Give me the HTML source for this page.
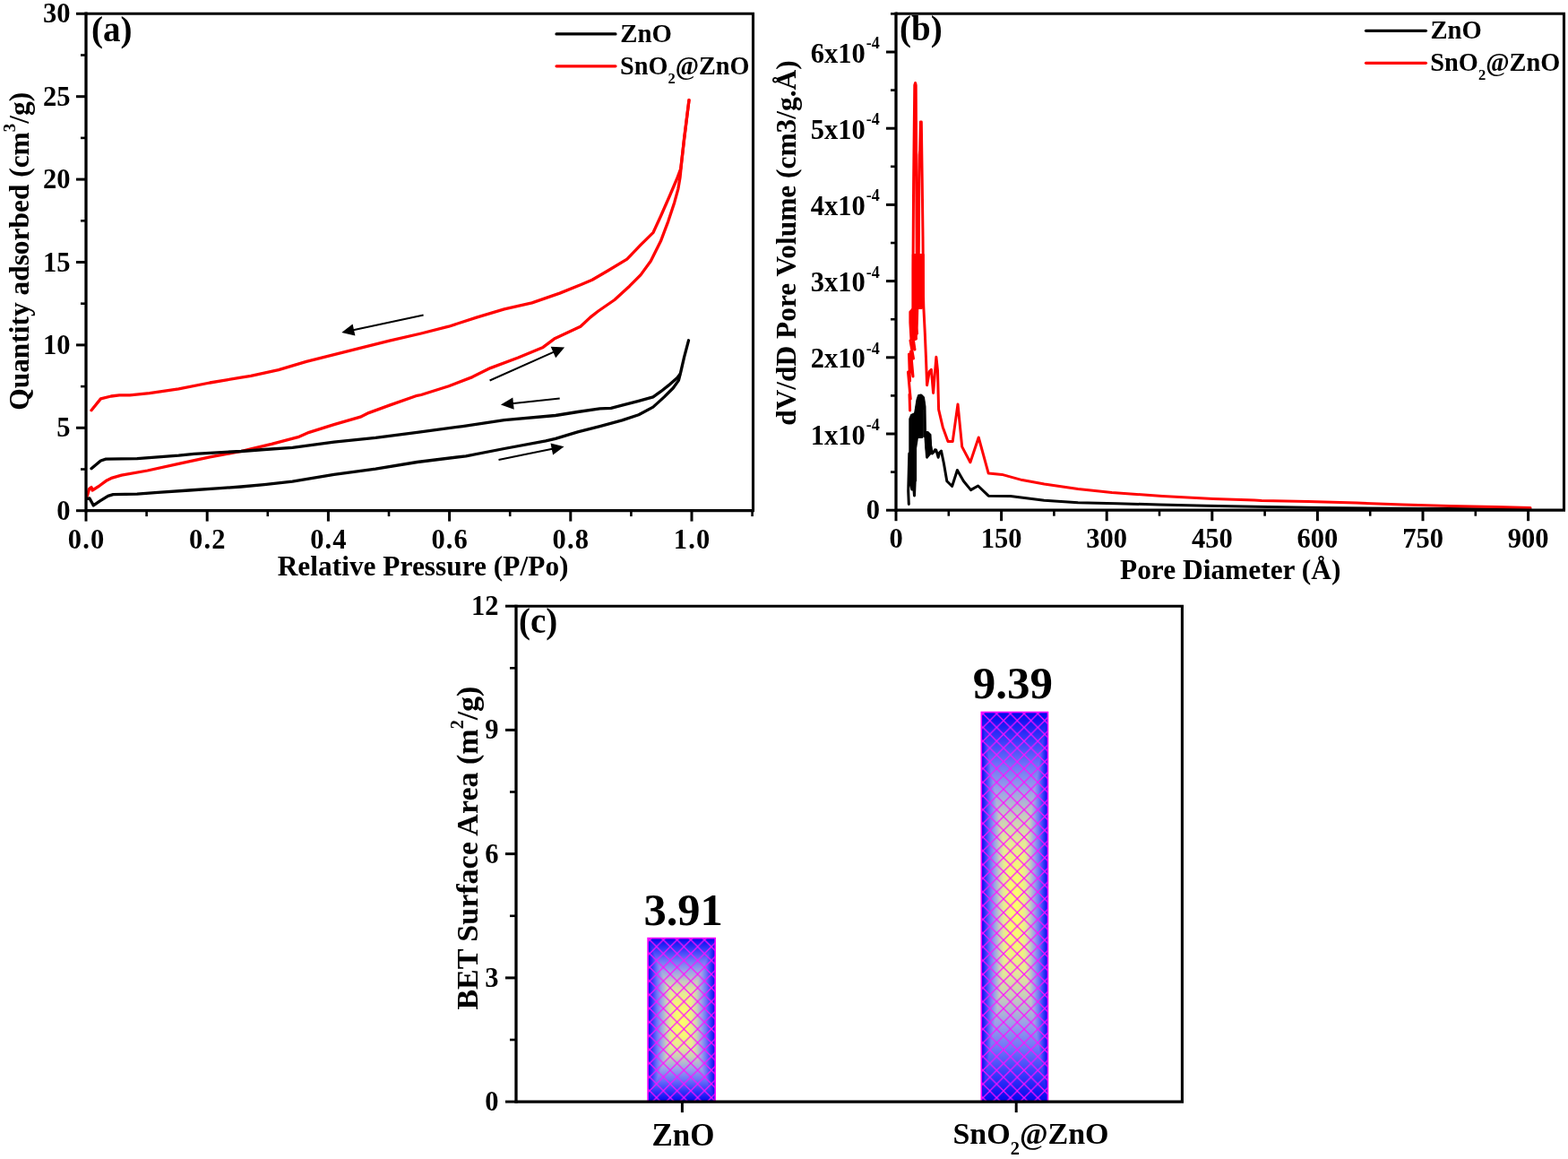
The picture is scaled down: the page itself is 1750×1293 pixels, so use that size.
<!DOCTYPE html>
<html><head><meta charset="utf-8"><title>BET figure</title><style>html,body{margin:0;padding:0;background:#fff;overflow:hidden}svg{display:block}</style></head><body>
<svg width="1750" height="1293" viewBox="0 0 1750 1293" font-family="&quot;Liberation Serif&quot;, serif" font-weight="bold">
<rect width="100%" height="100%" fill="#fff"/>
<defs>
<linearGradient id="gh0" gradientUnits="userSpaceOnUse" x1="723.1" y1="0" x2="798.2" y2="0"><stop offset="0.0000" stop-color="rgb(5,5,235)"/><stop offset="0.0150" stop-color="rgb(15,15,240)"/><stop offset="0.0700" stop-color="rgb(55,58,250)"/><stop offset="0.1350" stop-color="rgb(110,115,248)"/><stop offset="0.2000" stop-color="rgb(155,160,232)"/><stop offset="0.2700" stop-color="rgb(200,204,188)"/><stop offset="0.3350" stop-color="rgb(230,232,152)"/><stop offset="0.4000" stop-color="rgb(245,245,120)"/><stop offset="0.5000" stop-color="rgb(255,255,105)"/><stop offset="0.6000" stop-color="rgb(245,245,120)"/><stop offset="0.6650" stop-color="rgb(230,232,152)"/><stop offset="0.7300" stop-color="rgb(200,204,188)"/><stop offset="0.8000" stop-color="rgb(155,160,232)"/><stop offset="0.8650" stop-color="rgb(110,115,248)"/><stop offset="0.9300" stop-color="rgb(55,58,250)"/><stop offset="0.9850" stop-color="rgb(15,15,240)"/><stop offset="1.0000" stop-color="rgb(5,5,235)"/></linearGradient>
<linearGradient id="gv0" gradientUnits="userSpaceOnUse" x1="0" y1="1046.6" x2="0" y2="1229.1"><stop offset="0.0000" stop-color="rgb(5,5,235)"/><stop offset="0.0150" stop-color="rgb(15,15,240)"/><stop offset="0.0700" stop-color="rgb(55,58,250)"/><stop offset="0.1350" stop-color="rgb(110,115,248)"/><stop offset="0.2000" stop-color="rgb(155,160,232)"/><stop offset="0.2700" stop-color="rgb(200,204,188)"/><stop offset="0.3350" stop-color="rgb(230,232,152)"/><stop offset="0.4000" stop-color="rgb(245,245,120)"/><stop offset="0.5000" stop-color="rgb(255,255,105)"/><stop offset="0.6000" stop-color="rgb(245,245,120)"/><stop offset="0.6650" stop-color="rgb(230,232,152)"/><stop offset="0.7300" stop-color="rgb(200,204,188)"/><stop offset="0.8000" stop-color="rgb(155,160,232)"/><stop offset="0.8650" stop-color="rgb(110,115,248)"/><stop offset="0.9300" stop-color="rgb(55,58,250)"/><stop offset="0.9850" stop-color="rgb(15,15,240)"/><stop offset="1.0000" stop-color="rgb(5,5,235)"/></linearGradient>
<linearGradient id="gh1" gradientUnits="userSpaceOnUse" x1="1095.3" y1="0" x2="1169.5" y2="0"><stop offset="0.0000" stop-color="rgb(5,5,235)"/><stop offset="0.0150" stop-color="rgb(15,15,240)"/><stop offset="0.0700" stop-color="rgb(55,58,250)"/><stop offset="0.1350" stop-color="rgb(110,115,248)"/><stop offset="0.2000" stop-color="rgb(155,160,232)"/><stop offset="0.2700" stop-color="rgb(200,204,188)"/><stop offset="0.3350" stop-color="rgb(230,232,152)"/><stop offset="0.4000" stop-color="rgb(245,245,120)"/><stop offset="0.5000" stop-color="rgb(255,255,105)"/><stop offset="0.6000" stop-color="rgb(245,245,120)"/><stop offset="0.6650" stop-color="rgb(230,232,152)"/><stop offset="0.7300" stop-color="rgb(200,204,188)"/><stop offset="0.8000" stop-color="rgb(155,160,232)"/><stop offset="0.8650" stop-color="rgb(110,115,248)"/><stop offset="0.9300" stop-color="rgb(55,58,250)"/><stop offset="0.9850" stop-color="rgb(15,15,240)"/><stop offset="1.0000" stop-color="rgb(5,5,235)"/></linearGradient>
<linearGradient id="gv1" gradientUnits="userSpaceOnUse" x1="0" y1="794.5" x2="0" y2="1229.1"><stop offset="0.0000" stop-color="rgb(5,5,235)"/><stop offset="0.0150" stop-color="rgb(15,15,240)"/><stop offset="0.0700" stop-color="rgb(55,58,250)"/><stop offset="0.1350" stop-color="rgb(110,115,248)"/><stop offset="0.2000" stop-color="rgb(155,160,232)"/><stop offset="0.2700" stop-color="rgb(200,204,188)"/><stop offset="0.3350" stop-color="rgb(230,232,152)"/><stop offset="0.4000" stop-color="rgb(245,245,120)"/><stop offset="0.5000" stop-color="rgb(255,255,105)"/><stop offset="0.6000" stop-color="rgb(245,245,120)"/><stop offset="0.6650" stop-color="rgb(230,232,152)"/><stop offset="0.7300" stop-color="rgb(200,204,188)"/><stop offset="0.8000" stop-color="rgb(155,160,232)"/><stop offset="0.8650" stop-color="rgb(110,115,248)"/><stop offset="0.9300" stop-color="rgb(55,58,250)"/><stop offset="0.9850" stop-color="rgb(15,15,240)"/><stop offset="1.0000" stop-color="rgb(5,5,235)"/></linearGradient>
<pattern id="hz" patternUnits="userSpaceOnUse" x="732.70" y="1056.20" width="15.3" height="15.3"><path d="M-1,-1 L16.3,16.3 M16.3,-1 L-1,16.3" stroke="#ff10ff" stroke-width="1.25" fill="none"/></pattern>
<pattern id="hs" patternUnits="userSpaceOnUse" x="1104.70" y="803.90" width="15.3" height="15.3"><path d="M-1,-1 L16.3,16.3 M16.3,-1 L-1,16.3" stroke="#ff10ff" stroke-width="1.25" fill="none"/></pattern>
</defs>
<polyline points="102.0,457.7 112.4,444.9 124.0,442.0 133.3,440.9 144.9,440.9 166.9,438.6 199.4,433.9 234.2,427.0 269.0,421.2 280.0,419.3 310.9,412.6 341.9,403.4 372.8,395.6 403.7,387.9 434.7,380.2 470.0,372.0 500.9,364.2 531.9,354.1 562.8,344.9 593.7,337.9 624.7,327.1 647.9,317.8 660.9,312.2 677.6,302.5 699.8,289.2 715.1,273.2 729.1,259.3 737.4,241.2 747.2,219.0 755.5,199.5 759.7,188.3 763.3,158.0 769.0,111.6" fill="none" stroke="#ff0000" stroke-width="3.3" stroke-linejoin="round" stroke-linecap="round" />
<polyline points="97.3,553.4 99.6,545.3 102.0,543.6 103.1,547.0 111.2,541.8 118.2,536.6 125.2,533.1 135.6,530.2 164.6,525.0 199.4,517.4 234.2,509.9 269.0,503.5 280.0,500.8 303.2,495.4 332.6,487.7 345.0,482.3 372.8,473.7 402.2,465.2 411.5,460.6 434.7,452.1 465.6,441.3 470.0,440.5 500.9,430.7 527.2,420.6 547.3,410.6 578.3,399.0 606.1,387.4 618.5,378.1 647.9,364.2 652.5,360.0 658.7,354.1 667.8,347.0 685.9,334.5 702.6,319.2 715.1,306.6 726.3,291.3 737.4,269.1 745.8,246.8 752.7,225.9 756.9,210.6 759.0,198.1 760.4,184.2 763.6,154.2 769.0,111.6" fill="none" stroke="#ff0000" stroke-width="3.3" stroke-linejoin="round" stroke-linecap="round" />
<polyline points="102.0,522.7 112.4,514.0 118.2,512.2 153.0,511.6 176.2,509.9 199.4,508.2 216.8,506.4 234.2,505.3 269.0,503.5 295.0,501.5 326.4,499.3 372.8,493.1 419.2,488.4 465.6,482.3 516.4,475.6 562.8,468.6 620.0,463.5 644.8,459.5 669.5,455.9 681.9,455.3 694.3,452.2 712.8,447.3 728.9,442.9 737.6,436.7 746.2,429.9 756.1,421.3 758.5,418.0" fill="none" stroke="#000" stroke-width="3.3" stroke-linejoin="round" stroke-linecap="round" />
<polyline points="97.3,556.3 100.0,556.0 104.3,563.9 111.2,559.2 120.5,553.4 126.3,551.7 153.0,551.1 176.2,549.4 211.0,547.0 245.8,544.7 269.0,543.0 295.0,540.6 326.4,537.2 372.8,529.4 419.2,523.2 465.6,515.5 520.0,508.8 562.8,500.5 609.2,491.8 620.0,489.3 644.8,481.9 669.5,475.7 694.3,468.9 712.8,462.7 728.9,454.1 741.3,442.9 751.2,433.0 757.4,424.4 759.9,414.5 763.6,398.4 768.5,379.8" fill="none" stroke="#000" stroke-width="3.3" stroke-linejoin="round" stroke-linecap="round" />
<line x1="472.6" y1="351.5" x2="393.0" y2="368.4" stroke="#000" stroke-width="2" stroke-linecap="butt"/>
<polygon points="381.3,370.9 393.6,361.5 396.4,374.4" fill="#000"/>
<line x1="546.6" y1="424.5" x2="619.3" y2="392.2" stroke="#000" stroke-width="2" stroke-linecap="butt"/>
<polygon points="630.1,387.4 620.2,399.2 614.7,386.8" fill="#000"/>
<line x1="624.7" y1="444.6" x2="571.0" y2="450.3" stroke="#000" stroke-width="2" stroke-linecap="butt"/>
<polygon points="558.9,451.6 572.3,443.5 573.7,456.7" fill="#000"/>
<line x1="556.5" y1="512.9" x2="617.7" y2="500.6" stroke="#000" stroke-width="2" stroke-linecap="butt"/>
<polygon points="629.5,498.2 617.1,507.5 614.5,494.4" fill="#000"/>
<line x1="96.0" y1="15.2" x2="842.0" y2="15.2" stroke="#000" stroke-width="3.1" stroke-linecap="butt"/>
<line x1="840.5" y1="15.2" x2="840.5" y2="569.6" stroke="#000" stroke-width="3.1" stroke-linecap="butt"/>
<line x1="96.0" y1="569.6" x2="842.0" y2="569.6" stroke="#000" stroke-width="3.3" stroke-linecap="butt"/>
<line x1="96.0" y1="13.6" x2="96.0" y2="571.2" stroke="#000" stroke-width="3.3" stroke-linecap="butt"/>
<line x1="85.0" y1="569.7" x2="96.0" y2="569.7" stroke="#000" stroke-width="3" stroke-linecap="butt"/>
<text x="78.5" y="579.7" font-size="30.5" text-anchor="end" >0</text>
<line x1="90.0" y1="523.5" x2="96.0" y2="523.5" stroke="#000" stroke-width="2.6" stroke-linecap="butt"/>
<line x1="85.0" y1="477.3" x2="96.0" y2="477.3" stroke="#000" stroke-width="3" stroke-linecap="butt"/>
<text x="78.5" y="487.3" font-size="30.5" text-anchor="end" >5</text>
<line x1="90.0" y1="431.1" x2="96.0" y2="431.1" stroke="#000" stroke-width="2.6" stroke-linecap="butt"/>
<line x1="85.0" y1="384.9" x2="96.0" y2="384.9" stroke="#000" stroke-width="3" stroke-linecap="butt"/>
<text x="78.5" y="394.9" font-size="30.5" text-anchor="end" >10</text>
<line x1="90.0" y1="338.7" x2="96.0" y2="338.7" stroke="#000" stroke-width="2.6" stroke-linecap="butt"/>
<line x1="85.0" y1="292.5" x2="96.0" y2="292.5" stroke="#000" stroke-width="3" stroke-linecap="butt"/>
<text x="78.5" y="302.5" font-size="30.5" text-anchor="end" >15</text>
<line x1="90.0" y1="246.3" x2="96.0" y2="246.3" stroke="#000" stroke-width="2.6" stroke-linecap="butt"/>
<line x1="85.0" y1="200.1" x2="96.0" y2="200.1" stroke="#000" stroke-width="3" stroke-linecap="butt"/>
<text x="78.5" y="210.1" font-size="30.5" text-anchor="end" >20</text>
<line x1="90.0" y1="153.9" x2="96.0" y2="153.9" stroke="#000" stroke-width="2.6" stroke-linecap="butt"/>
<line x1="85.0" y1="107.7" x2="96.0" y2="107.7" stroke="#000" stroke-width="3" stroke-linecap="butt"/>
<text x="78.5" y="117.7" font-size="30.5" text-anchor="end" >25</text>
<line x1="90.0" y1="61.5" x2="96.0" y2="61.5" stroke="#000" stroke-width="2.6" stroke-linecap="butt"/>
<line x1="85.0" y1="15.3" x2="96.0" y2="15.3" stroke="#000" stroke-width="3" stroke-linecap="butt"/>
<text x="78.5" y="25.3" font-size="30.5" text-anchor="end" >30</text>
<line x1="96.0" y1="569.6" x2="96.0" y2="581.6" stroke="#000" stroke-width="3" stroke-linecap="butt"/>
<text x="96.0" y="612.2" font-size="30.5" text-anchor="middle" textLength="40.4" lengthAdjust="spacing">0.0</text>
<line x1="163.6" y1="569.6" x2="163.6" y2="576.1" stroke="#000" stroke-width="2.6" stroke-linecap="butt"/>
<line x1="231.2" y1="569.6" x2="231.2" y2="581.6" stroke="#000" stroke-width="3" stroke-linecap="butt"/>
<text x="231.2" y="612.2" font-size="30.5" text-anchor="middle" textLength="40.4" lengthAdjust="spacing">0.2</text>
<line x1="298.8" y1="569.6" x2="298.8" y2="576.1" stroke="#000" stroke-width="2.6" stroke-linecap="butt"/>
<line x1="366.4" y1="569.6" x2="366.4" y2="581.6" stroke="#000" stroke-width="3" stroke-linecap="butt"/>
<text x="366.4" y="612.2" font-size="30.5" text-anchor="middle" textLength="40.4" lengthAdjust="spacing">0.4</text>
<line x1="434.0" y1="569.6" x2="434.0" y2="576.1" stroke="#000" stroke-width="2.6" stroke-linecap="butt"/>
<line x1="501.6" y1="569.6" x2="501.6" y2="581.6" stroke="#000" stroke-width="3" stroke-linecap="butt"/>
<text x="501.6" y="612.2" font-size="30.5" text-anchor="middle" textLength="40.4" lengthAdjust="spacing">0.6</text>
<line x1="569.2" y1="569.6" x2="569.2" y2="576.1" stroke="#000" stroke-width="2.6" stroke-linecap="butt"/>
<line x1="636.8" y1="569.6" x2="636.8" y2="581.6" stroke="#000" stroke-width="3" stroke-linecap="butt"/>
<text x="636.8" y="612.2" font-size="30.5" text-anchor="middle" textLength="40.4" lengthAdjust="spacing">0.8</text>
<line x1="704.4" y1="569.6" x2="704.4" y2="576.1" stroke="#000" stroke-width="2.6" stroke-linecap="butt"/>
<line x1="772.0" y1="569.6" x2="772.0" y2="581.6" stroke="#000" stroke-width="3" stroke-linecap="butt"/>
<text x="772.0" y="612.2" font-size="30.5" text-anchor="middle" textLength="40.4" lengthAdjust="spacing">1.0</text>
<line x1="839.6" y1="569.6" x2="839.6" y2="576.1" stroke="#000" stroke-width="2.6" stroke-linecap="butt"/>
<text x="309.7" y="641.7" font-size="31.4" text-anchor="start" >Relative Pressure (P/Po)</text>
<text transform="translate(31.5,457.7) rotate(-90)" font-size="31.4">Quantity adsorbed (cm<tspan font-size="19" dy="-15">3</tspan><tspan dy="15">/g)</tspan></text>
<text x="102.0" y="45.5" font-size="39" text-anchor="start" >(a)</text>
<line x1="621.0" y1="37.9" x2="687.0" y2="37.9" stroke="#000" stroke-width="3.2" stroke-linecap="round"/>
<line x1="621.0" y1="73.8" x2="687.0" y2="73.8" stroke="#ff0000" stroke-width="3.2" stroke-linecap="round"/>
<text x="692.3" y="46.6" font-size="30" textLength="57.6" lengthAdjust="spacingAndGlyphs">ZnO</text>
<text x="692" y="83.3" font-size="30" textLength="144.5" lengthAdjust="spacingAndGlyphs">SnO<tspan font-size="17.5" dy="9.7">2</tspan><tspan dy="-9.7">@ZnO</tspan></text>
<polygon points="1015.3,467.4 1017.0,463.0 1021.6,461.0 1024.0,446.0 1025.5,441.5 1028.0,441.0 1030.5,443.5 1032.0,453.8 1032.0,482.0 1031.3,487.0 1031.3,456.0 1029.2,456.0 1029.2,488.0 1024.0,488.0 1022.1,500.0 1022.1,536.3 1015.3,536.3" fill="#000" stroke="#000" stroke-width="2" stroke-linejoin="round"/>
<polygon points="1033.0,482.0 1035.5,482.0 1038.5,485.0 1039.5,505.0 1035.0,510.0 1033.6,500.0" fill="#000" stroke="#000" stroke-width="2" stroke-linejoin="round"/>
<polyline points="1014.3,562.4 1013.7,547.8 1014.8,506.0 1015.5,536.0 1016.5,540.0 1017.8,546.0 1018.5,530.0 1019.3,538.0 1020.5,553.0 1021.2,536.0 1021.6,461.0 1024.0,446.0 1025.5,441.5 1028.0,441.0 1030.5,443.5 1032.0,453.8 1032.5,482.0 1034.6,510.2 1036.0,492.0 1037.1,485.7 1038.3,496.0 1040.4,506.0 1042.3,504.2 1043.5,501.8 1044.7,501.9 1047.2,510.2 1048.5,505.0 1050.5,503.1 1053.4,517.0 1056.8,536.7 1062.6,542.5 1068.4,524.5 1075.4,536.7 1083.5,546.6 1091.6,542.0 1103.2,553.2 1127.7,553.5 1165.4,558.3 1203.1,560.7 1246.5,561.7 1293.7,563.0 1346.5,564.3 1401.1,565.2 1460.0,566.3 1560.0,567.3 1708.0,568.0" fill="none" stroke="#000" stroke-width="3" stroke-linejoin="round" stroke-linecap="round" />
<polygon points="1018.8,284.0 1023.2,284.0 1024.2,296.0 1025.2,284.0 1030.8,284.0 1030.8,342.0 1028.6,344.0 1024.3,344.0 1023.5,372.0 1021.5,379.0 1016.5,379.0 1015.4,360.0 1015.4,348.0 1018.8,344.0" fill="#ff0000" stroke="#ff0000" stroke-width="2" stroke-linejoin="round"/>
<polyline points="1015.6,458.0 1015.0,440.0 1016.2,445.0 1013.5,415.0 1015.5,425.0 1014.5,395.0 1019.0,420.0 1016.5,392.0 1019.5,400.0 1016.0,380.0 1021.0,390.0 1016.5,360.0 1022.5,378.0 1018.5,350.0 1023.5,372.0 1019.0,344.0 1019.0,300.0 1019.6,206.0 1020.8,95.0 1021.6,92.5 1022.2,95.0 1023.2,283.0 1023.8,320.0 1024.3,290.0 1024.8,342.0 1025.3,283.0 1025.8,200.0 1026.2,173.0 1026.7,168.0 1027.4,136.0 1028.3,136.0 1029.2,200.0 1030.0,264.0 1030.5,330.0 1030.8,342.0 1032.3,372.0 1033.5,400.0 1034.6,429.7 1037.3,414.6 1039.4,412.4 1041.6,438.4 1044.9,398.3 1046.5,413.5 1047.6,456.8 1052.2,476.4 1058.0,492.6 1063.2,492.6 1069.0,450.9 1073.7,498.4 1082.9,515.8 1092.2,488.0 1103.2,528.1 1118.3,529.4 1140.9,535.6 1165.4,540.0 1203.1,545.6 1240.9,549.4 1297.4,553.5 1354.0,556.4 1400.0,558.0 1408.0,558.4 1460.0,559.4 1514.0,561.0 1566.0,563.0 1618.0,564.4 1670.0,565.6 1708.0,566.4" fill="none" stroke="#ff0000" stroke-width="3" stroke-linejoin="round" stroke-linecap="round" />
<line x1="1000.0" y1="15.2" x2="1747.0" y2="15.2" stroke="#000" stroke-width="3.1" stroke-linecap="butt"/>
<line x1="1745.5" y1="15.2" x2="1745.5" y2="569.2" stroke="#000" stroke-width="3.1" stroke-linecap="butt"/>
<line x1="1000.0" y1="569.2" x2="1747.0" y2="569.2" stroke="#000" stroke-width="3.3" stroke-linecap="butt"/>
<line x1="1000.0" y1="13.6" x2="1000.0" y2="570.9" stroke="#000" stroke-width="3.3" stroke-linecap="butt"/>
<line x1="989.0" y1="569.2" x2="1000.0" y2="569.2" stroke="#000" stroke-width="3" stroke-linecap="butt"/>
<text x="982.0" y="579.2" font-size="30.5" text-anchor="end" >0</text>
<line x1="994.0" y1="526.6" x2="1000.0" y2="526.6" stroke="#000" stroke-width="2.6" stroke-linecap="butt"/>
<line x1="989.0" y1="484.0" x2="1000.0" y2="484.0" stroke="#000" stroke-width="3" stroke-linecap="butt"/>
<text x="965.8" y="495.6" font-size="30.5" text-anchor="end">1x10</text>
<text x="966.8" y="480.0" font-size="18">-4</text>
<line x1="994.0" y1="441.4" x2="1000.0" y2="441.4" stroke="#000" stroke-width="2.6" stroke-linecap="butt"/>
<line x1="989.0" y1="398.8" x2="1000.0" y2="398.8" stroke="#000" stroke-width="3" stroke-linecap="butt"/>
<text x="965.8" y="410.4" font-size="30.5" text-anchor="end">2x10</text>
<text x="966.8" y="394.8" font-size="18">-4</text>
<line x1="994.0" y1="356.2" x2="1000.0" y2="356.2" stroke="#000" stroke-width="2.6" stroke-linecap="butt"/>
<line x1="989.0" y1="313.6" x2="1000.0" y2="313.6" stroke="#000" stroke-width="3" stroke-linecap="butt"/>
<text x="965.8" y="325.2" font-size="30.5" text-anchor="end">3x10</text>
<text x="966.8" y="309.6" font-size="18">-4</text>
<line x1="994.0" y1="271.0" x2="1000.0" y2="271.0" stroke="#000" stroke-width="2.6" stroke-linecap="butt"/>
<line x1="989.0" y1="228.4" x2="1000.0" y2="228.4" stroke="#000" stroke-width="3" stroke-linecap="butt"/>
<text x="965.8" y="240.0" font-size="30.5" text-anchor="end">4x10</text>
<text x="966.8" y="224.4" font-size="18">-4</text>
<line x1="994.0" y1="185.8" x2="1000.0" y2="185.8" stroke="#000" stroke-width="2.6" stroke-linecap="butt"/>
<line x1="989.0" y1="143.2" x2="1000.0" y2="143.2" stroke="#000" stroke-width="3" stroke-linecap="butt"/>
<text x="965.8" y="154.8" font-size="30.5" text-anchor="end">5x10</text>
<text x="966.8" y="139.2" font-size="18">-4</text>
<line x1="994.0" y1="100.6" x2="1000.0" y2="100.6" stroke="#000" stroke-width="2.6" stroke-linecap="butt"/>
<line x1="989.0" y1="58.0" x2="1000.0" y2="58.0" stroke="#000" stroke-width="3" stroke-linecap="butt"/>
<text x="965.8" y="69.6" font-size="30.5" text-anchor="end">6x10</text>
<text x="966.8" y="54.0" font-size="18">-4</text>
<line x1="994.0" y1="15.4" x2="1000.0" y2="15.4" stroke="#000" stroke-width="2.6" stroke-linecap="butt"/>
<line x1="1000.0" y1="569.2" x2="1000.0" y2="581.2" stroke="#000" stroke-width="3" stroke-linecap="butt"/>
<text x="1000.0" y="610.7" font-size="30.5" text-anchor="middle" >0</text>
<line x1="1058.8" y1="569.2" x2="1058.8" y2="575.7" stroke="#000" stroke-width="2.6" stroke-linecap="butt"/>
<line x1="1117.6" y1="569.2" x2="1117.6" y2="581.2" stroke="#000" stroke-width="3" stroke-linecap="butt"/>
<text x="1117.6" y="610.7" font-size="30.5" text-anchor="middle" >150</text>
<line x1="1176.4" y1="569.2" x2="1176.4" y2="575.7" stroke="#000" stroke-width="2.6" stroke-linecap="butt"/>
<line x1="1235.2" y1="569.2" x2="1235.2" y2="581.2" stroke="#000" stroke-width="3" stroke-linecap="butt"/>
<text x="1235.2" y="610.7" font-size="30.5" text-anchor="middle" >300</text>
<line x1="1294.0" y1="569.2" x2="1294.0" y2="575.7" stroke="#000" stroke-width="2.6" stroke-linecap="butt"/>
<line x1="1352.8" y1="569.2" x2="1352.8" y2="581.2" stroke="#000" stroke-width="3" stroke-linecap="butt"/>
<text x="1352.8" y="610.7" font-size="30.5" text-anchor="middle" >450</text>
<line x1="1411.6" y1="569.2" x2="1411.6" y2="575.7" stroke="#000" stroke-width="2.6" stroke-linecap="butt"/>
<line x1="1470.4" y1="569.2" x2="1470.4" y2="581.2" stroke="#000" stroke-width="3" stroke-linecap="butt"/>
<text x="1470.4" y="610.7" font-size="30.5" text-anchor="middle" >600</text>
<line x1="1529.2" y1="569.2" x2="1529.2" y2="575.7" stroke="#000" stroke-width="2.6" stroke-linecap="butt"/>
<line x1="1588.0" y1="569.2" x2="1588.0" y2="581.2" stroke="#000" stroke-width="3" stroke-linecap="butt"/>
<text x="1588.0" y="610.7" font-size="30.5" text-anchor="middle" >750</text>
<line x1="1646.8" y1="569.2" x2="1646.8" y2="575.7" stroke="#000" stroke-width="2.6" stroke-linecap="butt"/>
<line x1="1705.6" y1="569.2" x2="1705.6" y2="581.2" stroke="#000" stroke-width="3" stroke-linecap="butt"/>
<text x="1705.6" y="610.7" font-size="30.5" text-anchor="middle" >900</text>
<text x="1250.0" y="645.6" font-size="31.4" text-anchor="start" >Pore Diameter (Å)</text>
<text transform="translate(888,474.8) rotate(-90)" font-size="31.4">dV/dD Pore Volume (cm3/g.Å)</text>
<text x="1004.0" y="44.8" font-size="39" text-anchor="start" >(b)</text>
<line x1="1524.5" y1="34.3" x2="1591.4" y2="34.3" stroke="#000" stroke-width="3.2" stroke-linecap="round"/>
<line x1="1524.5" y1="70.3" x2="1591.4" y2="70.3" stroke="#ff0000" stroke-width="3.2" stroke-linecap="round"/>
<text x="1596.4" y="43.2" font-size="30" textLength="57.3" lengthAdjust="spacingAndGlyphs">ZnO</text>
<text x="1596.3" y="79.4" font-size="30" textLength="145" lengthAdjust="spacingAndGlyphs">SnO<tspan font-size="17.5" dy="9.9">2</tspan><tspan dy="-9.9">@ZnO</tspan></text>
<rect x="723.1" y="1046.6" width="75.1" height="182.5" fill="url(#gh0)"/>
<polygon points="723.1,1046.6 798.2,1046.6 760.65,1137.85" fill="url(#gv0)"/>
<polygon points="723.1,1229.1 798.2,1229.1 760.65,1137.85" fill="url(#gv0)"/>
<rect x="723.1" y="1046.6" width="75.1" height="182.5" fill="url(#hz)" stroke="#ff00ff" stroke-width="1.6"/>
<rect x="1095.3" y="794.5" width="74.2" height="434.6" fill="url(#gh1)"/>
<polygon points="1095.3,794.5 1169.5,794.5 1132.40,1011.80" fill="url(#gv1)"/>
<polygon points="1095.3,1229.1 1169.5,1229.1 1132.40,1011.80" fill="url(#gv1)"/>
<rect x="1095.3" y="794.5" width="74.2" height="434.6" fill="url(#hs)" stroke="#ff00ff" stroke-width="1.6"/>
<line x1="576.0" y1="676.2" x2="1321.0" y2="676.2" stroke="#000" stroke-width="3.1" stroke-linecap="butt"/>
<line x1="1319.4" y1="676.2" x2="1319.4" y2="1229.1" stroke="#000" stroke-width="3.1" stroke-linecap="butt"/>
<line x1="576.0" y1="1229.1" x2="1321.0" y2="1229.1" stroke="#000" stroke-width="3.3" stroke-linecap="butt"/>
<line x1="576.0" y1="674.7" x2="576.0" y2="1230.8" stroke="#000" stroke-width="3.3" stroke-linecap="butt"/>
<line x1="564.0" y1="1229.1" x2="576.0" y2="1229.1" stroke="#000" stroke-width="3" stroke-linecap="butt"/>
<text x="556.6" y="1239.1" font-size="30.5" text-anchor="end" >0</text>
<line x1="569.0" y1="1160.0" x2="576.0" y2="1160.0" stroke="#000" stroke-width="2.6" stroke-linecap="butt"/>
<line x1="564.0" y1="1090.9" x2="576.0" y2="1090.9" stroke="#000" stroke-width="3" stroke-linecap="butt"/>
<text x="556.6" y="1100.9" font-size="30.5" text-anchor="end" >3</text>
<line x1="569.0" y1="1021.8" x2="576.0" y2="1021.8" stroke="#000" stroke-width="2.6" stroke-linecap="butt"/>
<line x1="564.0" y1="952.6" x2="576.0" y2="952.6" stroke="#000" stroke-width="3" stroke-linecap="butt"/>
<text x="556.6" y="962.6" font-size="30.5" text-anchor="end" >6</text>
<line x1="569.0" y1="883.5" x2="576.0" y2="883.5" stroke="#000" stroke-width="2.6" stroke-linecap="butt"/>
<line x1="564.0" y1="814.4" x2="576.0" y2="814.4" stroke="#000" stroke-width="3" stroke-linecap="butt"/>
<text x="556.6" y="824.4" font-size="30.5" text-anchor="end" >9</text>
<line x1="569.0" y1="745.3" x2="576.0" y2="745.3" stroke="#000" stroke-width="2.6" stroke-linecap="butt"/>
<line x1="564.0" y1="676.2" x2="576.0" y2="676.2" stroke="#000" stroke-width="3" stroke-linecap="butt"/>
<text x="556.6" y="686.2" font-size="30.5" text-anchor="end" >12</text>
<line x1="761.4" y1="1229.1" x2="761.4" y2="1241.1" stroke="#000" stroke-width="3" stroke-linecap="butt"/>
<line x1="1134.2" y1="1229.1" x2="1134.2" y2="1241.1" stroke="#000" stroke-width="3" stroke-linecap="butt"/>
<text x="762.5" y="1277.7" font-size="35" text-anchor="middle" >ZnO</text>
<text x="1063.4" y="1275.5" font-size="34">SnO<tspan font-size="20.5" dy="12">2</tspan><tspan dy="-12">@ZnO</tspan></text>
<text transform="translate(533,1126.6) rotate(-90)" font-size="34">BET Surface Area (m<tspan font-size="20" dy="-16">2</tspan><tspan dy="16">/g)</tspan></text>
<text x="579.0" y="706.0" font-size="39" text-anchor="start" >(c)</text>
<text x="762.6" y="1031.5" font-size="50.5" text-anchor="middle" >3.91</text>
<text x="1130.3" y="779.3" font-size="51" text-anchor="middle" >9.39</text>
</svg>
</body></html>
